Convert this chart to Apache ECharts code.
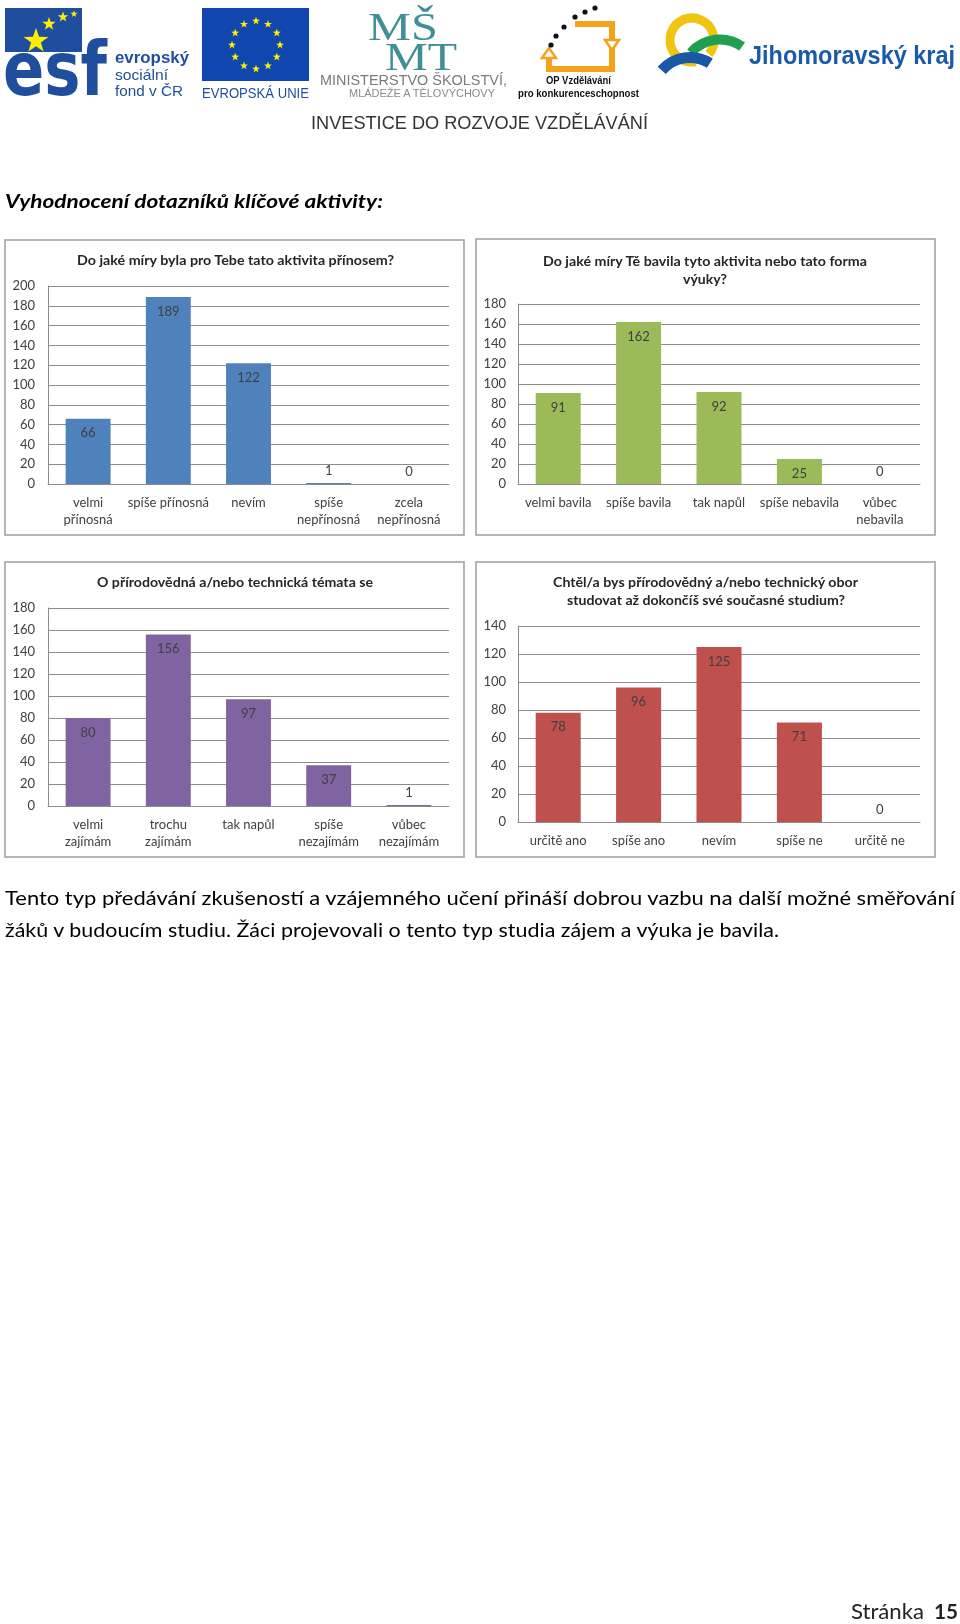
<!DOCTYPE html>
<html><head><meta charset="utf-8">
<script src="https://cdn.jsdelivr.net/npm/echarts@6.0.0/dist/echarts.min.js"></script>
<style>
html,body{margin:0;padding:0;background:#fff;}
#page{position:relative;width:960px;height:1624px;overflow:hidden;background:#fff;}
#chart{position:absolute;left:0;top:0;width:960px;height:880px;}
#overlay{position:absolute;left:0;top:0;}
</style></head>
<body>
<div id="page"><div id="chart"></div><svg id="overlay" width="960" height="1624" xmlns="http://www.w3.org/2000/svg"></svg></div>
<script>
// ---------- DATA ----------
const chart1Title = ['Do jaké míry byla pro Tebe tato aktivita přínosem?'];
const chart1Categories = ['velmi\npřínosná', 'spíše přínosná', 'nevím', 'spíše\nnepřínosná', 'zcela\nnepřínosná'];
const chart1Values = [66, 189, 122, 1, 0];
const chart1Max = 200;

const chart2Title = ['Do jaké míry Tě bavila tyto aktivita nebo tato forma', 'výuky?'];
const chart2Categories = ['velmi bavila', 'spíše bavila', 'tak napůl', 'spíše nebavila', 'vůbec\nnebavila'];
const chart2Values = [91, 162, 92, 25, 0];
const chart2Max = 180;

const chart3Title = ['O přírodovědná a/nebo technická témata se'];
const chart3Categories = ['velmi\nzajímám', 'trochu\nzajímám', 'tak napůl', 'spíše\nnezajímám', 'vůbec\nnezajímám'];
const chart3Values = [80, 156, 97, 37, 1];
const chart3Max = 180;

const chart4Title = ['Chtěl/a bys přírodovědný a/nebo technický obor', 'studovat až dokončíš své současné studium?'];
const chart4Categories = ['určitě ano', 'spíše ano', 'nevím', 'spíše ne', 'určitě ne'];
const chart4Values = [78, 96, 125, 71, 0];
const chart4Max = 140;

const yInterval = 20;

const headingText = 'Vyhodnocení dotazníků klíčové aktivity:';
const paragraphLines = [
  'Tento typ předávání zkušeností a vzájemného učení přináší dobrou vazbu na další možné směřování',
  'žáků v budoucím studiu. Žáci projevovali o tento typ studia zájem a výuka je bavila.'
];
const footerWord = 'Stránka';
const footerNumber = '15';

// ---------- CHARTS ----------
const FONT = 'Lato, "Open Sans", sans-serif';
const charts = [
  {cats: chart1Categories, vals: chart1Values, max: chart1Max, color: '#4f81bd', grid: {left: 48, top: 286, width: 401, height: 198}, ymargin: 13},
  {cats: chart2Categories, vals: chart2Values, max: chart2Max, color: '#9bbb59', grid: {left: 518, top: 304, width: 402, height: 180}, ymargin: 12},
  {cats: chart3Categories, vals: chart3Values, max: chart3Max, color: '#8064a2', grid: {left: 48, top: 608, width: 401, height: 198}, ymargin: 13},
  {cats: chart4Categories, vals: chart4Values, max: chart4Max, color: '#c0504d', grid: {left: 518, top: 626, width: 402, height: 196}, ymargin: 12}
];

const option = {
  animation: false,
  backgroundColor: 'transparent',
  grid: charts.map(c => Object.assign({containLabel: false}, c.grid)),
  xAxis: charts.map((c, i) => ({
    type: 'category', gridIndex: i, data: c.cats,
    axisLine: {show: true, lineStyle: {color: '#8c8c8c', width: 1}},
    axisTick: {show: false},
    axisLabel: {interval: 0, color: '#404040', fontFamily: FONT, fontSize: 13, lineHeight: 17, margin: 10}
  })),
  yAxis: charts.map((c, i) => ({
    type: 'value', gridIndex: i, min: 0, max: c.max, interval: yInterval,
    axisLine: {show: true, lineStyle: {color: '#8c8c8c', width: 1}},
    axisTick: {show: false},
    splitLine: {show: true, lineStyle: {color: '#8c8c8c', width: 1}},
    axisLabel: {color: '#404040', fontFamily: FONT, fontSize: 13, margin: c.ymargin}
  })),
  series: charts.map((c, i) => ({
    type: 'bar', xAxisIndex: i, yAxisIndex: i, barWidth: '56%',
    itemStyle: {color: c.color},
    label: {show: true, color: '#404040', fontFamily: FONT, fontSize: 13},
    data: c.vals.map(v => ({value: v, label: {position: v <= 1 ? 'top' : 'insideTop', distance: v <= 1 ? 6 : 8}}))
  }))
};
const ec = echarts.init(document.getElementById('chart'), null, {renderer: 'canvas'});
ec.setOption(option);

// ---------- OVERLAY (page text, logos, chart frames) ----------
function esc(s){return s.replace(/&/g,'&amp;').replace(/</g,'&lt;');}
function txt(x1, x2, cy, s, size, opts) {
  opts = opts || {};
  return `<text x="${x1}" y="${cy}" dominant-baseline="central" textLength="${x2 - x1}" lengthAdjust="spacingAndGlyphs" font-family='${opts.family || FONT}' font-size="${size}" font-weight="${opts.weight || 'normal'}" font-style="${opts.style || 'normal'}" fill="${opts.fill || '#000'}">${esc(s)}</text>`;
}
function star(cx, cy, R, fill) {
  const r = R * 0.4; let p = [];
  for (let k = 0; k < 10; k++) {
    const a = -Math.PI / 2 + k * Math.PI / 5; const rr = k % 2 ? r : R;
    p.push((cx + rr * Math.cos(a)).toFixed(1) + ',' + (cy + rr * Math.sin(a)).toFixed(1));
  }
  return `<polygon points="${p.join(' ')}" fill="${fill}"/>`;
}
function arc(cx, cy, r, a1, a2, color, w) {
  const rad = d => d * Math.PI / 180;
  const x1 = cx + r * Math.cos(rad(a1)), y1 = cy + r * Math.sin(rad(a1));
  const x2 = cx + r * Math.cos(rad(a2)), y2 = cy + r * Math.sin(rad(a2));
  const large = ((a2 - a1 + 360) % 360) > 180 ? 1 : 0;
  return `<path d="M${x1.toFixed(1)},${y1.toFixed(1)} A${r},${r} 0 ${large} 1 ${x2.toFixed(1)},${y2.toFixed(1)}" fill="none" stroke="${color}" stroke-width="${w}"/>`;
}

let s = '';
const SANS = '"Liberation Sans", Arial, sans-serif';
// ESF logo
const esfBlue = '#1f4e9e';
s += `<rect x="5" y="8" width="77" height="44" fill="${esfBlue}"/>`;
s += `<text x="3" y="95" textLength="104" lengthAdjust="spacingAndGlyphs" font-family="'DejaVu Sans', sans-serif" font-weight="bold" font-size="74" fill="${esfBlue}">esf</text>`;
s += star(36, 41, 13, '#ffed00') + star(49, 24, 7, '#ffed00') + star(63, 17, 5.5, '#ffed00') + star(74, 14, 3.8, '#ffed00');
s += txt(115, 189, 57, 'evropský', 16, {weight: 'bold', fill: esfBlue, family: SANS});
s += txt(115, 168, 74, 'sociální', 15, {fill: esfBlue, family: SANS});
s += txt(115, 183, 90, 'fond v ČR', 15, {fill: esfBlue, family: SANS});
// EU flag
s += `<rect x="202" y="8" width="107" height="73" fill="#0f47af"/>`;
for (let k = 0; k < 12; k++) {
  const a = k * Math.PI / 6;
  s += star(256 + 24 * Math.cos(a), 45 + 24 * Math.sin(a), 4.2, '#ffed00');
}
s += txt(202, 309, 92, 'EVROPSKÁ UNIE', 15, {fill: esfBlue, family: SANS});
// MSMT logo
const teal = '#3f8f97';
s += `<text x="368" y="40" textLength="70" lengthAdjust="spacingAndGlyphs" font-family="'Liberation Serif', serif" font-size="40" fill="${teal}">MŠ</text>`;
s += `<text x="385" y="70" textLength="72" lengthAdjust="spacingAndGlyphs" font-family="'Liberation Serif', serif" font-size="40" fill="${teal}">MT</text>`;
s += txt(320, 507, 80, 'MINISTERSTVO ŠKOLSTVÍ,', 14, {fill: '#7a7a7a', family: SANS});
s += txt(349, 495, 93, 'MLÁDEŽE A TĚLOVÝCHOVY', 11, {fill: '#8a8a8a', family: SANS});
// OP logo
const orange = '#f5a21b';
s += `<path d="M575,24 L612,24 L612,69 L549,69 L549,58" fill="none" stroke="${orange}" stroke-width="6"/>`;
s += `<polygon points="605,40 619,40 612,50" fill="#fff" stroke="${orange}" stroke-width="2.5"/>`;
s += `<polygon points="542,58 556,58 549,48" fill="#fff" stroke="${orange}" stroke-width="2.5"/>`;
[[551,45],[556,36],[564,27],[575,17],[585,12],[595,8]].forEach(p => s += `<circle cx="${p[0]}" cy="${p[1]}" r="2.6" fill="#111"/>`);
s += txt(546, 611, 80, 'OP Vzdělávání', 10.5, {weight: 'bold', fill: '#111', family: SANS});
s += txt(518, 639, 93, 'pro konkurenceschopnost', 10.5, {weight: 'bold', fill: '#111', family: SANS});
// Jihomoravsky kraj logo
s += arc(692, 40, 22, 80, 400, '#f1c40f', 9);
s += arc(720, 78, 38.5, 221, 305, '#1fa050', 10);
s += arc(690, 95, 37.5, 221, 302, '#1a58a6', 11);
s += txt(749, 955, 55, 'Jihomoravský kraj', 25, {weight: 'bold', fill: '#1a5aa8', family: SANS});
s += txt(311, 648, 122, 'INVESTICE DO ROZVOJE VZDĚLÁVÁNÍ', 19, {fill: '#333', family: SANS});

// heading
s += txt(5, 383, 200, headingText, 19, {weight: 'bold', style: 'italic', fill: '#000'});

// chart frames
[[5,240,459,295],[476,239,459,296],[5,562,459,295],[476,562,459,295]].forEach(b => {
  s += `<rect x="${b[0]}" y="${b[1]}" width="${b[2]}" height="${b[3]}" fill="none" stroke="#a3a3a3" stroke-width="1.6"/>`;
});
// chart titles (x extents per line)
const titleDefs = [
  {lines: chart1Title, x: [[77, 394]], y: [260]},
  {lines: chart2Title, x: [[543, 867], [683, 727]], y: [261, 279]},
  {lines: chart3Title, x: [[97, 373]], y: [582]},
  {lines: chart4Title, x: [[553, 858], [567, 845]], y: [582, 600]}
];
titleDefs.forEach(t => t.lines.forEach((l, k) => { s += txt(t.x[k][0], t.x[k][1], t.y[k], l, 13.5, {weight: 'bold', fill: '#262626'}); }));

// paragraph
s += txt(5, 955, 897, paragraphLines[0], 19, {fill: '#000'});
s += txt(5, 779, 929, paragraphLines[1], 19, {fill: '#000'});
// footer
s += txt(851, 924, 1610, footerWord, 21, {fill: '#222'});
s += txt(934, 958, 1610, footerNumber, 21, {weight: 'bold', fill: '#222'});

document.getElementById('overlay').innerHTML = s;
</script>
</body></html>
